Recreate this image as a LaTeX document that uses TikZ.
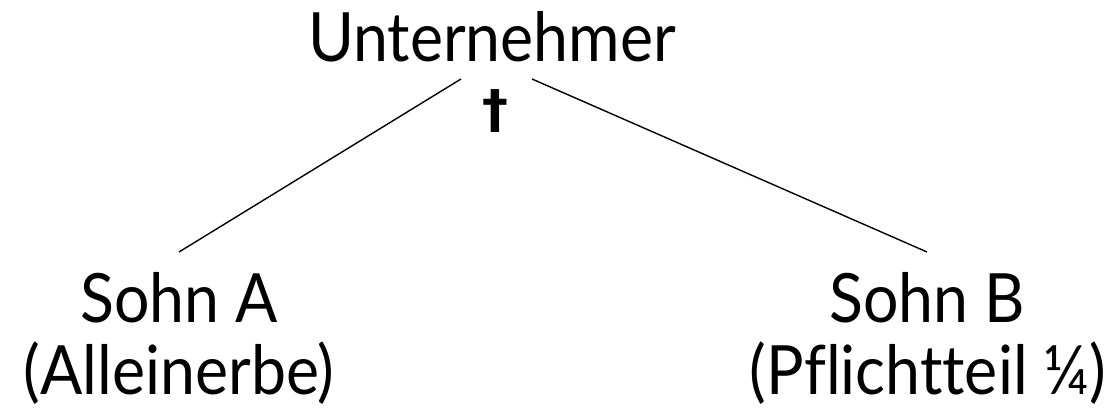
\documentclass[tikz,border=0pt]{standalone}
\usepackage{fontspec}
\setmainfont[Ligatures={NoCommon},FakeStretch=0.92]{Lato}
\newfontfamily\symfont{DejaVu Sans}
\begin{document}
\begin{tikzpicture}[x=1pt,y=1pt,
  lbl/.style={inner sep=0pt, anchor=base, font=\fontsize{68}{80}\selectfont},
  dag/.style={inner sep=0pt, anchor=base, font=\symfont\bfseries\fontsize{52}{60}\selectfont},
  link/.style={line width=1.4pt}]
\useasboundingbox (0,0) rectangle (1119,-411);
\node[lbl] (u) at (492,-62) {Unternehmer};
\node[dag] (d) at (495,-128) {†};
\node[lbl] (a) at (179,-323) {Sohn A};
\node[lbl] (a2) at (179,-395) {(Alleinerbe)};
\node[lbl] (b) at (927,-323) {Sohn B};
\node[lbl] (b2) at (928,-395) {(Pflichtteil ¼)};
\coordinate (ul) at (461,-79);
\coordinate (ur) at (532,-79);
\coordinate (al) at (179,-252);
\coordinate (br) at (927,-252);
\draw[link] (ul) -- (al);
\draw[link] (ur) -- (br);
\end{tikzpicture}
\end{document}
